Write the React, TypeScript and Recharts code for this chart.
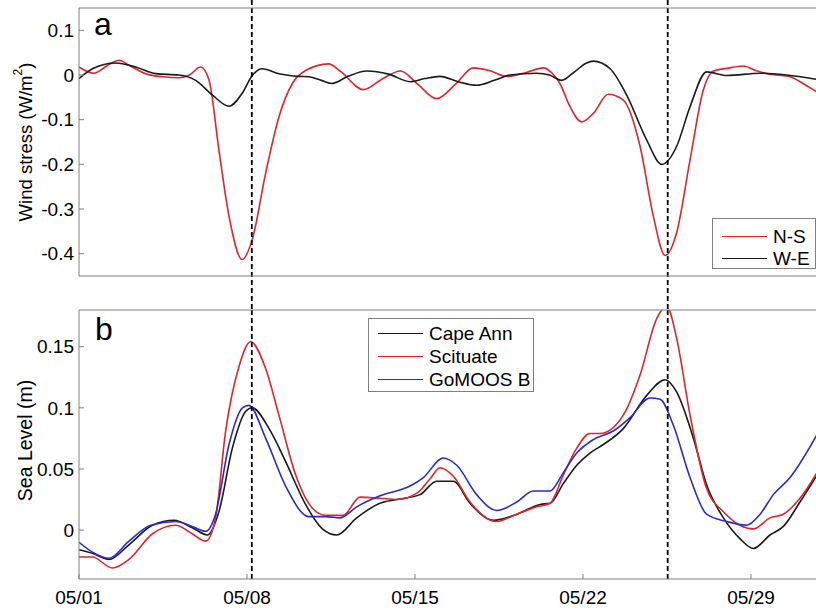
import { LineChart, Line, XAxis, YAxis, ReferenceLine, Legend, Label } from "recharts";

const dayTicks = [0, 7, 14, 21, 28];
const dayLabels = ["05/01", "05/08", "05/15", "05/22", "05/29"];
const stressTicks = [-0.4, -0.3, -0.2, -0.1, 0, 0.1];
const levelTicks = [0, 0.05, 0.1, 0.15];
const eventDays = [7.2, 24.53];

// [days since 05/01, wind stress]
const northSouth: [number, number][] = [
  [0, 0.018], [0.62, 0.004], [1.15, 0.02], [1.67, 0.033], [2.08, 0.022], [2.78, 0.003],
  [3.5, -0.004], [4.17, -0.006], [4.6, 0], [5.07, 0.018], [5.42, -0.012], [5.83, -0.168],
  [6.25, -0.316], [6.8, -0.413], [7.22, -0.368], [7.78, -0.219], [8.33, -0.094], [8.89, -0.019],
  [9.44, 0.01], [10.4, 0.025], [10.9, 0.008], [11.85, -0.033], [12.6, -0.01], [13.4, 0.009],
  [14.1, -0.02], [14.9, -0.053], [15.7, -0.02], [16.43, 0.016], [17.1, 0.01], [17.82, -0.003],
  [18.6, 0.005], [19.35, 0.016], [19.7, 0.005], [20.04, -0.019], [20.46, -0.071], [20.94, -0.105],
  [21.43, -0.086], [22.05, -0.043], [22.68, -0.056], [23.38, -0.16], [23.93, -0.316], [24.42, -0.404],
  [24.9, -0.353], [25.46, -0.19], [26.01, -0.034], [26.43, 0.009], [27.0, 0.015], [27.68, 0.02],
  [28.2, 0.01], [28.79, 0.002], [29.63, -0.004], [30.2, -0.02], [30.75, -0.038],
];
const westEast: [number, number][] = [
  [0, -0.008], [0.56, 0.014], [1.53, 0.027], [2.36, 0.018], [3.2, 0.003], [4.17, 0],
  [4.86, -0.012], [5.56, -0.045], [6.25, -0.07], [6.8, -0.041], [7.22, -0.001], [7.64, 0.014],
  [8.33, 0.003], [9.17, -0.003], [9.58, -0.004], [10.1, -0.012], [10.55, -0.019], [11.2, -0.003],
  [11.99, 0.009], [12.9, 0.002], [13.8, -0.015], [14.4, -0.008], [15.04, -0.003], [15.8, -0.015],
  [16.57, -0.023], [17.3, -0.012], [17.96, 0], [19.07, 0.004], [19.6, 0], [20.11, -0.012],
  [20.6, 0.005], [21.15, 0.027], [21.43, 0.031], [22.13, 0.014], [22.82, -0.045], [23.65, -0.145],
  [24.28, -0.2], [24.9, -0.16], [25.46, -0.071], [26.15, 0.007], [26.99, -0.001], [28.38, 0.004],
  [29.49, 0], [30.75, -0.01],
];

// [days since 05/01, sea level in m]
const capeAnn: [number, number][] = [
  [0, -0.016], [0.56, -0.019], [1.25, -0.024], [2.08, -0.012], [3.06, 0.004], [3.96, 0.008],
  [4.72, 0.002], [5.35, -0.004], [5.83, 0.015], [6.39, 0.067], [6.94, 0.097], [7.22, 0.1],
  [7.92, 0.083], [8.61, 0.056], [9.44, 0.021], [10.14, 0.001], [10.74, -0.004], [11.57, 0.01],
  [12.54, 0.022], [13.24, 0.025], [14.21, 0.029], [14.9, 0.04], [15.6, 0.04], [16.29, 0.022],
  [17.26, 0.008], [18.24, 0.013], [19.21, 0.021], [19.63, 0.022], [20.18, 0.038], [20.74, 0.053],
  [21.29, 0.063], [21.85, 0.07], [22.68, 0.083], [23.65, 0.11], [24.42, 0.123], [24.9, 0.113],
  [25.6, 0.075], [26.15, 0.037], [26.85, 0.01], [27.54, -0.007], [28.1, -0.015], [28.79, -0.004],
  [29.35, 0.003], [30.04, 0.023], [30.75, 0.045],
];
const scituate: [number, number][] = [
  [0, -0.022], [0.56, -0.022], [1.39, -0.031], [2.08, -0.024], [3.06, -0.003], [4.03, 0.004],
  [4.72, -0.003], [5.28, -0.009], [5.69, 0.01], [6.11, 0.081], [6.67, 0.134], [7.15, 0.154],
  [7.78, 0.132], [8.33, 0.094], [9.03, 0.045], [9.72, 0.018], [10.28, 0.012], [11.0, 0.012],
  [11.71, 0.027], [12.54, 0.026], [13.24, 0.025], [14.07, 0.03], [14.63, 0.042], [15.04, 0.051],
  [15.6, 0.044], [16.29, 0.023], [17.4, 0.007], [18.24, 0.013], [19.07, 0.019], [19.63, 0.022],
  [20.18, 0.045], [20.74, 0.067], [21.29, 0.079], [21.71, 0.079], [22.68, 0.094], [23.38, 0.127],
  [24.07, 0.173], [24.49, 0.183], [24.9, 0.157], [25.46, 0.094], [26.15, 0.034], [26.85, 0.015],
  [27.54, 0.004], [28.1, 0.001], [28.79, 0.01], [29.35, 0.013], [30.04, 0.026], [30.75, 0.047],
];
const gomoosB: [number, number][] = [
  [0, -0.01], [0.56, -0.018], [1.25, -0.023], [2.08, -0.009], [2.99, 0.004], [4.03, 0.007],
  [4.72, 0.003], [5.28, -0.001], [5.69, 0.013], [6.25, 0.07], [6.81, 0.1], [7.08, 0.102],
  [7.78, 0.075], [8.61, 0.036], [9.58, 0.011], [10.28, 0.011], [10.88, 0.01], [11.57, 0.019],
  [12.54, 0.028], [13.79, 0.036], [14.35, 0.043], [15.18, 0.059], [15.74, 0.053], [16.57, 0.029],
  [17.4, 0.016], [18.24, 0.023], [18.93, 0.032], [19.63, 0.032], [20.18, 0.047], [20.74, 0.063],
  [21.43, 0.074], [22.26, 0.081], [22.96, 0.092], [23.79, 0.108], [24.21, 0.107], [24.76, 0.086],
  [25.46, 0.043], [26.15, 0.013], [26.99, 0.007], [27.82, 0.004], [28.38, 0.013], [28.93, 0.029],
  [29.63, 0.043], [30.75, 0.078],
];

const windNames = ["N-S", "W-E"];
const stationNames = ["Cape Ann", "Scituate", "GoMOOS B"];

const pts = (s: [number, number][]) => s.map(([d, v]) => ({ d, v }));

const RED = "#e3232a";
const BLACK = "#1a1a1a";
const BLUE = "#2a2ad4";
const FRAME = "#808080";
const FONT = "'Liberation Sans', Arial, sans-serif";
const TICK_FONT = 19;

const fmtDay = (d: number) => dayLabels[dayTicks.indexOf(d)] ?? "";

function BoxLegend({ payload, order, width, height, padTop, rowHeight }: any) {
  const items = [...(payload || [])].sort(
    (a: any, b: any) => order.indexOf(a.value) - order.indexOf(b.value)
  );
  return (
    <div
      style={{
        width,
        height,
        boxSizing: "border-box",
        border: `1px solid ${FRAME}`,
        background: "#fff",
        paddingTop: padTop,
        fontFamily: FONT,
      }}
    >
      {items.map((p: any) => (
        <div key={p.value} style={{ display: "flex", alignItems: "center", height: rowHeight }}>
          <span style={{ marginLeft: 9, marginRight: 6, width: 45, borderTop: `1.5px solid ${p.color}` }} />
          <span style={{ fontSize: 19, lineHeight: 1, color: "#000" }}>{p.value}</span>
        </div>
      ))}
    </div>
  );
}

function AxisTitle({ viewBox, main, sup, tail, size, shift }: any) {
  const cx = viewBox.x + 6;
  const cy = viewBox.y + viewBox.height / 2 + shift;
  return (
    <text
      x={cx}
      y={cy}
      transform={`rotate(-90 ${cx} ${cy})`}
      textAnchor="middle"
      dominantBaseline="central"
      fontSize={size}
      fill="#000"
    >
      {main}
      {sup && (
        <tspan dy={-7} fontSize={12}>
          {sup}
        </tspan>
      )}
      {tail && (
        <tspan dy={sup ? 7 : 0} fontSize={size}>
          {tail}
        </tspan>
      )}
    </text>
  );
}

const axisCommon = {
  stroke: FRAME,
  tickSize: -5,
  allowDataOverflow: true,
};

export default function App() {
  return (
    <div
      style={{
        position: "absolute",
        left: 0,
        top: 0,
        width: 816,
        height: 611,
        overflow: "hidden",
        background: "#fff",
        fontFamily: FONT,
      }}
    >
      <div style={{ position: "absolute", left: 0, top: 0 }}>
        <LineChart width={833} height={310} margin={{ top: 7, right: 10, bottom: 33, left: 19 }}>
          <XAxis
            {...axisCommon}
            dataKey="d"
            type="number"
            domain={[0, 31]}
            ticks={dayTicks}
            tick={false}
            height={1}
          />
          <XAxis
            {...axisCommon}
            xAxisId="top"
            orientation="top"
            type="number"
            domain={[0, 31]}
            ticks={dayTicks}
            tick={false}
            height={1}
          />
          <YAxis
            {...axisCommon}
            type="number"
            domain={[-0.45, 0.15]}
            ticks={stressTicks}
            tickFormatter={(v: number) => String(v)}
            tick={{ fill: "#000", fontSize: TICK_FONT }}
            tickMargin={10}
            width={60}
          >
            <Label
              content={(p: any) => (
                <AxisTitle viewBox={p.viewBox} main="Wind stress (W/m" sup="2" tail=")" size={18.5} shift={0} />
              )}
            />
          </YAxis>
          <Line data={pts(northSouth)} dataKey="v" name="N-S" type="monotone" stroke={RED} strokeWidth={1.6} dot={false} isAnimationActive={false} />
          <Line data={pts(westEast)} dataKey="v" name="W-E" type="monotone" stroke={BLACK} strokeWidth={1.6} dot={false} isAnimationActive={false} />
          {eventDays.map((d) => (
            <ReferenceLine
              key={d}
              segment={[{ x: d, y: 0.168 }, { x: d, y: -0.526 }]}
              ifOverflow="visible"
              stroke="#000"
              strokeWidth={1.8}
              strokeDasharray="5 3"
            />
          ))}
          <Legend
            layout="horizontal"
            verticalAlign="middle"
            align="center"
            wrapperStyle={{ left: 712, top: 218, width: 104, height: 51 }}
            content={(p: any) => (
              <BoxLegend payload={p.payload} order={windNames} width={104} height={51} padTop={6} rowHeight={22} />
            )}
          />
        </LineChart>
      </div>

      <div style={{ position: "absolute", left: 0, top: 300 }}>
        <LineChart width={833} height={311} margin={{ top: 9, right: 10, bottom: 0, left: 19 }}>
          <XAxis
            {...axisCommon}
            dataKey="d"
            type="number"
            domain={[0, 31]}
            ticks={dayTicks}
            tickFormatter={fmtDay}
            tick={{ fill: "#000", fontSize: TICK_FONT }}
            tickMargin={17}
            height={32}
          />
          <XAxis
            {...axisCommon}
            xAxisId="top"
            orientation="top"
            type="number"
            domain={[0, 31]}
            ticks={dayTicks}
            tick={false}
            height={1}
          />
          <YAxis
            {...axisCommon}
            type="number"
            domain={[-0.04, 0.18]}
            ticks={levelTicks}
            tickFormatter={(v: number) => String(v)}
            tick={{ fill: "#000", fontSize: TICK_FONT }}
            tickMargin={10}
            width={60}
          >
            <Label
              content={(p: any) => <AxisTitle viewBox={p.viewBox} main="Sea Level (m)" size={19.5} shift={-4} />}
            />
          </YAxis>
          <Line data={pts(capeAnn)} dataKey="v" name="Cape Ann" type="monotone" stroke={BLACK} strokeWidth={1.6} dot={false} isAnimationActive={false} />
          <Line data={pts(scituate)} dataKey="v" name="Scituate" type="monotone" stroke={RED} strokeWidth={1.6} dot={false} isAnimationActive={false} />
          <Line data={pts(gomoosB)} dataKey="v" name="GoMOOS B" type="monotone" stroke={BLUE} strokeWidth={1.6} dot={false} isAnimationActive={false} />
          {eventDays.map((d) => (
            <ReferenceLine key={d} x={d} stroke="#000" strokeWidth={1.8} strokeDasharray="5 3" />
          ))}
          <Legend
            layout="horizontal"
            verticalAlign="middle"
            align="center"
            wrapperStyle={{ left: 368, top: 18, width: 166, height: 74 }}
            content={(p: any) => (
              <BoxLegend payload={p.payload} order={stationNames} width={166} height={74} padTop={3} rowHeight={23} />
            )}
          />
        </LineChart>
      </div>

      <div style={{ position: "absolute", left: 94, top: 8, fontSize: 32, lineHeight: 1 }}>a</div>
      <div style={{ position: "absolute", left: 95, top: 313, fontSize: 32, lineHeight: 1 }}>b</div>
    </div>
  );
}
